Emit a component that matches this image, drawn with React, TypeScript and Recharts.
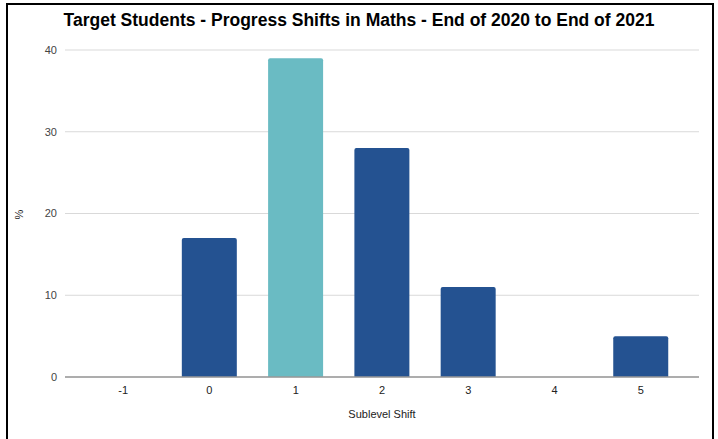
import React from 'react';
import { BarChart, Bar, XAxis, YAxis, CartesianGrid, Cell } from 'recharts';

const categories = ['-1', '0', '1', '2', '3', '4', '5'];
const percentages = [0, 17, 39, 28, 11, 0, 5];
const yTicks = [0, 10, 20, 30, 40];
const highlightedCategory = '1';

const data = categories.map((c, i) => ({ shift: c, value: percentages[i] }));

const FONT = '"Liberation Sans", Arial, sans-serif';
const DARK = '#245291';
const TEAL = '#6abbc3';

export default function App() {
  return (
    <div style={{ position: 'absolute', left: 0, top: 0, width: 718, height: 439, background: '#fff', overflow: 'hidden', fontFamily: FONT }}>
      <div style={{ position: 'absolute', left: 6, top: 3, width: 708, height: 460, border: '2px solid #000', boxSizing: 'border-box' }} />
      <div style={{ position: 'absolute', left: 0, top: 8, width: 718, textAlign: 'center', fontWeight: 'bold', fontSize: 17.5, lineHeight: '24px', color: '#000' }}>
        Target Students - Progress Shifts in Maths - End of 2020 to End of 2021
      </div>
      <div style={{ position: 'absolute', left: 0, top: 0 }}>
        <BarChart width={718} height={439} data={data} margin={{ top: 50, right: 19, bottom: 12, left: 0 }} barCategoryGap="18%">
          <CartesianGrid vertical={false} stroke="#d9d9d9" />
          <XAxis
            dataKey="shift"
            tickLine={false}
            axisLine={{ stroke: '#999', strokeWidth: 1.5 }}
            padding={{ left: 15, right: 15 }}
            height={50}
            tick={{ fontSize: 11, fill: '#222', fontFamily: FONT }}
            tickMargin={3}
            label={{ value: 'Sublevel Shift', position: 'insideBottom', offset: 9, fontSize: 11, fill: '#222', fontFamily: FONT }}
          />
          <YAxis
            width={65}
            domain={[0, 40]}
            ticks={yTicks}
            tickLine={false}
            axisLine={false}
            tickSize={0}
            tickMargin={8}
            tick={{ fontSize: 11, fill: '#444', fontFamily: FONT }}
            label={{ value: '%', angle: -90, position: 'insideLeft', offset: 19, dy: 6, fontSize: 11, fill: '#222', fontFamily: FONT }}
          />
          <Bar dataKey="value" isAnimationActive={false} radius={[2, 2, 0, 0]}>
            {data.map((d) => (
              <Cell key={d.shift} fill={d.shift === highlightedCategory ? TEAL : DARK} />
            ))}
          </Bar>
        </BarChart>
      </div>
    </div>
  );
}
